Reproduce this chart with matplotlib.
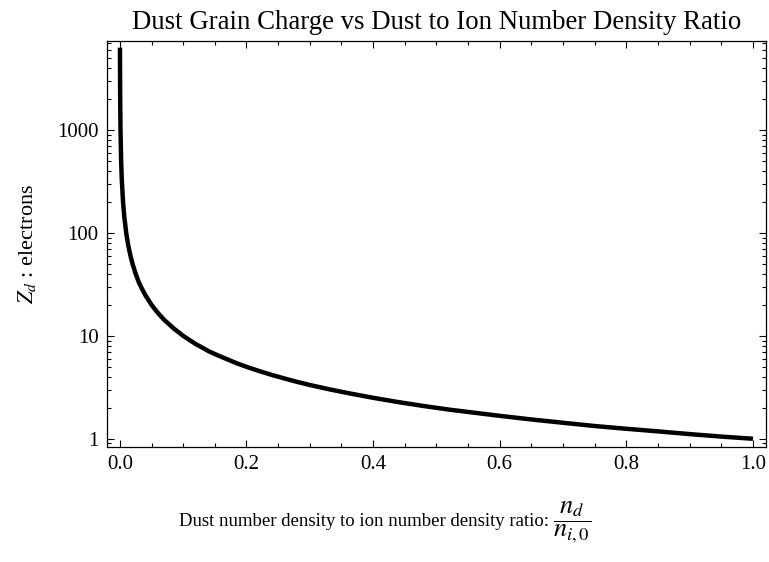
import matplotlib
matplotlib.use('Agg')
import matplotlib.pyplot as plt
from matplotlib.ticker import FixedLocator, FuncFormatter, LogLocator, MultipleLocator

# Z_d (log axis)
ratio = [0.00016, 0.0003, 0.0005, 0.001, 0.002, 0.003, 0.005, 0.007, 0.01, 0.013,
         0.017, 0.02, 0.025, 0.03, 0.035, 0.04, 0.05, 0.06, 0.07, 0.085, 0.1, 0.11,
         0.12, 0.13, 0.14, 0.155, 0.17, 0.185, 0.2, 0.22, 0.24, 0.26, 0.28, 0.3,
         0.33, 0.36, 0.4, 0.44, 0.48, 0.52, 0.56, 0.6, 0.65, 0.7, 0.75, 0.8,
         0.85, 0.9, 0.95, 1.0]
charge = [6300, 3330, 2000, 1000, 500, 333, 200, 143, 100, 77,
          59, 50, 40, 33, 28.6, 25, 20, 16.7, 14.3, 11.8, 10.0, 9.1,
          8.3, 7.7, 7.1, 6.45, 5.9, 5.4, 5.0, 4.55, 4.17, 3.85, 3.57, 3.33,
          3.03, 2.78, 2.5, 2.27, 2.08, 1.92, 1.79, 1.67, 1.54, 1.43, 1.33, 1.25,
          1.18, 1.11, 1.05, 1.0]

xticks = [0.0, 0.2, 0.4, 0.6, 0.8, 1.0]
yticks = [1, 10, 100, 1000]

plt.rcParams['font.family'] = ['Liberation Serif', 'DejaVu Serif']
plt.rcParams['mathtext.fontset'] = 'stix'

fig = plt.figure(figsize=(7.69, 5.62), dpi=100)
ax = fig.add_axes([0.139, 0.205, 0.857, 0.722])
ax.plot(ratio, charge, color='black', lw=3.2, solid_capstyle='butt')
ax.set_yscale('log')
ax.set_xlim(-0.0205, 1.0205)
ax.set_ylim(10 ** -0.078, 10 ** 3.864)

ax.xaxis.set_major_locator(FixedLocator(xticks))
ax.xaxis.set_minor_locator(MultipleLocator(0.05))
ax.xaxis.set_major_formatter(FuncFormatter(lambda v, p: '%.1f' % v))
ax.yaxis.set_major_locator(FixedLocator(yticks))
ax.yaxis.set_minor_locator(LogLocator(base=10, subs=range(2, 10)))
ax.yaxis.set_major_formatter(FuncFormatter(lambda v, p: '%d' % v))
ax.yaxis.set_minor_formatter(FuncFormatter(lambda v, p: ''))
ax.tick_params(which='both', direction='in', top=True, right=True, labelsize=15, width=0.8)
ax.tick_params(which='major', length=5, pad=6)
ax.tick_params(which='minor', length=2.8)
for s in ax.spines.values():
    s.set_linewidth(0.9)

ax.set_title('Dust Grain Charge vs Dust to Ion Number Density Ratio', fontsize=19.3, pad=9)
ax.set_ylabel(r'$Z_d$ : electrons', fontsize=16, labelpad=14)

# x label: plain text plus a full-size fraction, as in the reference
ylab = 1 - 522 / 562
fig.text(549 / 769, ylab, 'Dust number density to ion number density ratio:',
         ha='right', va='center', fontsize=13.5)
fig.text(553 / 769, ylab, r'$\dfrac{n_d}{n_{i,0}}$', ha='left', va='center', fontsize=19)

fig.savefig('out.png', dpi=100)
